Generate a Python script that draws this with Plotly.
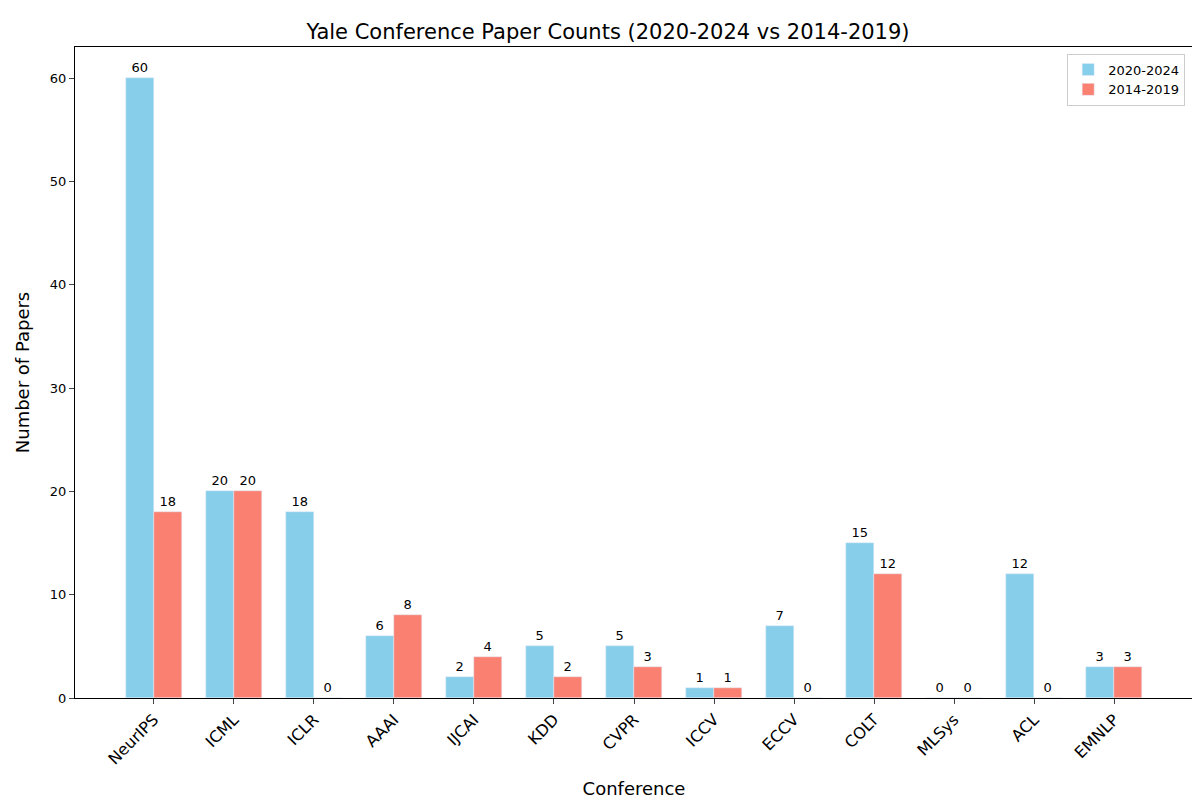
import plotly.graph_objects as go

conferences = ["NeurIPS", "ICML", "ICLR", "AAAI", "IJCAI", "KDD", "CVPR", "ICCV",
               "ECCV", "COLT", "MLSys", "ACL", "EMNLP"]
recent = [60, 20, 18, 6, 2, 5, 5, 1, 7, 15, 0, 12, 3]
earlier = [18, 20, 0, 8, 4, 2, 3, 1, 0, 12, 0, 0, 3]

xs = list(range(len(conferences)))
font = "DejaVu Sans"

fig = go.Figure()
fig.add_trace(go.Bar(x=xs, y=recent, name="2020-2024", width=0.35, offset=-0.35,
                     marker_color="skyblue", text=recent, textposition="outside",
                     cliponaxis=False, textfont=dict(size=13, color="black")))
fig.add_trace(go.Bar(x=xs, y=earlier, name="2014-2019", width=0.35, offset=0,
                     marker_color="salmon", text=earlier, textposition="outside",
                     cliponaxis=False, textfont=dict(size=13, color="black")))

fig.update_layout(
    width=1200, height=800,
    font=dict(family=font, color="black"),
    paper_bgcolor="white", plot_bgcolor="white",
    margin=dict(l=67, r=15, t=39, b=108),
    title=dict(text="Yale Conference Paper Counts (2020-2024 vs 2014-2019)",
               x=0.5, xanchor="center", y=0.97, yanchor="middle",
               font=dict(size=21)),
    bargap=0,
    legend=dict(x=0.993, y=0.99, xanchor="right", yanchor="top",
                bordercolor="#cccccc", borderwidth=1, font=dict(size=13)),
    xaxis=dict(range=[-0.985, 12.985], tickmode="array", tickvals=xs,
               ticktext=conferences, tickangle=-45, tickfont=dict(size=16),
               showline=True, linecolor="black", mirror=True, ticks="outside",
               showgrid=False, title=dict(text="Conference", font=dict(size=18))),
    yaxis=dict(range=[0, 63], dtick=10, tickfont=dict(size=13),
               showline=True, linecolor="black", mirror=True, ticks="outside",
               showgrid=False, zeroline=False,
               title=dict(text="Number of Papers", font=dict(size=18))),
)

fig.write_html("out.html")
